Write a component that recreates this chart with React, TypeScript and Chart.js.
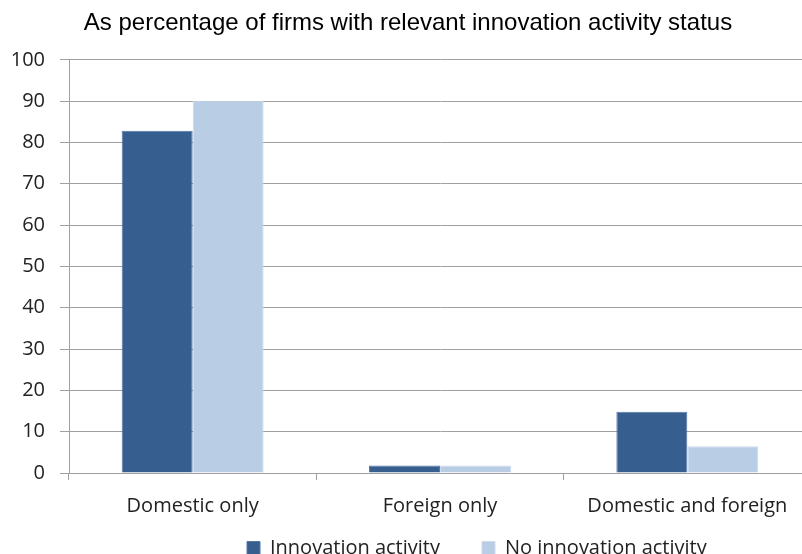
import React, { useEffect, useRef } from "react";
import { Chart, registerables } from "chart.js";

Chart.register(...registerables);

const categories = ["Domestic only", "Foreign only", "Domestic and foreign"];
const innovationActivity = [82.8, 1.8, 14.8];
const noInnovationActivity = [90.1, 1.8, 6.5];
const yTickValues = [0, 10, 20, 30, 40, 50, 60, 70, 80, 90, 100];
const seriesNames = ["Innovation activity", "No innovation activity"];
const titleText = "As percentage of firms with relevant innovation activity status";

const W = 812;
const CANVAS_H = 700;
const AREA_LEFT = 69;
const AREA_BOTTOM = 473;
const LEGEND_PAD = 42;
const LEGEND_X = 247;
const LEGEND_Y = 538;

const GRID = "#a0a0a0";
const TEXT = "#222222";

export default function App() {
  const ref = useRef<HTMLCanvasElement | null>(null);

  useEffect(() => {
    if (!ref.current) return;
    const legendShift = {
      id: "legendShift",
      beforeDraw(chart: any) {
        const lg = chart.legend;
        if (!lg) return;
        const h = lg.height;
        lg.left = LEGEND_X - LEGEND_PAD;
        lg.right = lg.left + 800;
        lg.width = 800;
        lg.top = LEGEND_Y - LEGEND_PAD;
        lg.bottom = lg.top + h;
      },
    };
    const chart = new Chart(ref.current, {
      type: "bar",
      data: {
        labels: categories,
        datasets: [
          {
            label: seriesNames[0],
            data: innovationActivity,
            backgroundColor: "#365e8e",
            borderColor: "#5579a6",
            borderWidth: 1,
            categoryPercentage: 0.574,
            barPercentage: 1,
          },
          {
            label: seriesNames[1],
            data: noInnovationActivity,
            backgroundColor: "#b9cde5",
            borderColor: "#cddbed",
            borderWidth: 1,
            categoryPercentage: 0.574,
            barPercentage: 1,
          },
        ],
      },
      plugins: [legendShift],
      options: {
        animation: false,
        responsive: false,
        devicePixelRatio: 1,
        layout: { padding: { left: 5, right: 1, top: 0, bottom: 0 } },
        plugins: {
          title: {
            display: true,
            text: titleText,
            color: "#000000",
            font: { family: "'Liberation Sans', Arial, sans-serif", size: 24, weight: "normal" },
            padding: { top: 9, bottom: 22 },
          },
          legend: {
            display: true,
            position: "bottom",
            align: "start",
            labels: {
              boxWidth: 13,
              boxHeight: 13,
              padding: LEGEND_PAD,
              color: TEXT,
              font: { family: "'Open Sans', sans-serif", size: 20 },
            },
          },
          tooltip: { enabled: false },
        },
        scales: {
          x: {
            grid: {
              display: true,
              drawOnChartArea: false,
              drawTicks: true,
              tickLength: 7,
              color: GRID,
              offset: true,
            },
            border: { display: true, color: GRID },
            ticks: {
              color: TEXT,
              padding: 14,
              autoSkip: false,
              font: { family: "'Open Sans', sans-serif", size: 20 },
              maxRotation: 0,
              minRotation: 0,
            },
          },
          y: {
            min: 0,
            max: 100,
            afterBuildTicks: (s: any) => {
              s.ticks = yTickValues.map((v) => ({ value: v }));
            },
            grid: { color: GRID, tickLength: 9, drawTicks: true },
            border: { display: true, color: GRID },
            ticks: {
              color: TEXT,
              padding: 15,
              font: { family: "'Open Sans', sans-serif", size: 20 },
            },
            afterFit: (s: any) => {
              s.width = AREA_LEFT - 5;
            },
          },
        },
      },
    });
    // Place the plot bottom at AREA_BOTTOM by adjusting the layout's bottom padding
    let padBottom = 0;
    for (let i = 0; i < 3; i++) {
      const gap = chart.chartArea.bottom - AREA_BOTTOM;
      if (Math.abs(gap) < 0.25) break;
      padBottom += gap;
      (chart.options.layout as any).padding = { left: 5, right: 1, top: 0, bottom: padBottom };
      chart.update();
    }
    return () => chart.destroy();
  }, []);

  return (
    <div
      style={{
        position: "fixed",
        left: 0,
        top: 0,
        width: 802,
        height: 554,
        overflow: "hidden",
        background: "#ffffff",
      }}
    >
      <canvas
        ref={ref}
        width={W}
        height={CANVAS_H}
        style={{ display: "block", width: W, height: CANVAS_H }}
      />
    </div>
  );
}
